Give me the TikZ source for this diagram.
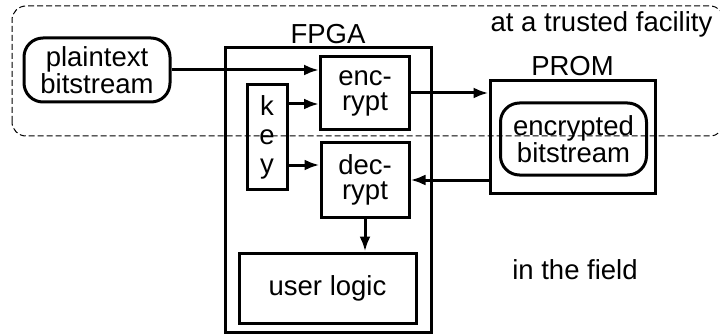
\documentclass[tikz,border=0pt]{standalone}
\usepackage{fontspec}
\setmainfont{Liberation Sans}
\usetikzlibrary{
  calc,positioning,
  arrows,arrows.meta
}

\begin{document}
\begin{tikzpicture}[x=1pt,y=-1pt,line width=3pt,
  font=\fontsize{27.5}{25}\selectfont,
  box/.style={draw,rectangle,align=center,inner sep=0pt},
  rbox/.style={box,rounded corners=19pt},
  arr/.style={-{Latex[length=15pt,width=11pt]}}]

\useasboundingbox (0.000000,0.000000) rectangle (720.000000,334.000000);

\draw[dash pattern=on 6pt off 3pt,line width=1pt,rounded corners=14pt] (12.000000,136.000000) -- (12.000000,6.000000) -- (724.000000,6.000000) -- (724.000000,136.000000) -- cycle;
\node (trusted) at (601.500000,24.000000) {at a trusted facility};
\node (field) at (575.000000,270.000000) {in the field};

\node[rbox,minimum width=146,minimum height=64] (plain) at (97.000000,70.000000) {plaintext\\bitstream};

\node[box,minimum width=206,minimum height=284] (fpga) at (328.000000,190.000000) {};
\node[above=-2pt of fpga] (fpgalabel) {FPGA};
\node[box,minimum width=89,minimum height=73] (enc) at (365.000000,93.000000) {enc-\\rypt};
\node[box,minimum width=88,minimum height=74] (dec) at (365.000000,180.000000) {dec-\\rypt};
\node[box,minimum width=40,minimum height=104,font=\fontsize{27.5}{29}\selectfont] (key) at (267.000000,137.000000) {k\\e\\y};
\node[box,minimum width=177,minimum height=70] (user) at (327.500000,288.000000) {user logic};

\node[box,minimum width=165,minimum height=113] (prom) at (572.500000,137.000000) {};
\node[above=-2pt of prom] (promlabel) {PROM};
\node[rbox,minimum width=146,minimum height=72] (enctext) at (573.500000,139.000000) {encrypted\\bitstream};

\draw[arr] (plain.east) -- (plain.east -| enc.west);
\draw[arr] ([yshift=33]key.east) -- ([yshift=33]key.east -| enc.west);
\draw[arr] ([yshift=-28]key.east) -- ([yshift=-28]key.east -| dec.west);
\draw[arr] (enc.east) -- (enc.east -| prom.west);
\draw[arr] (prom.west |- dec.east) -- (dec.east);
\draw[arr] (dec.south) -- (dec.south |- user.north);
\end{tikzpicture}
\end{document}
